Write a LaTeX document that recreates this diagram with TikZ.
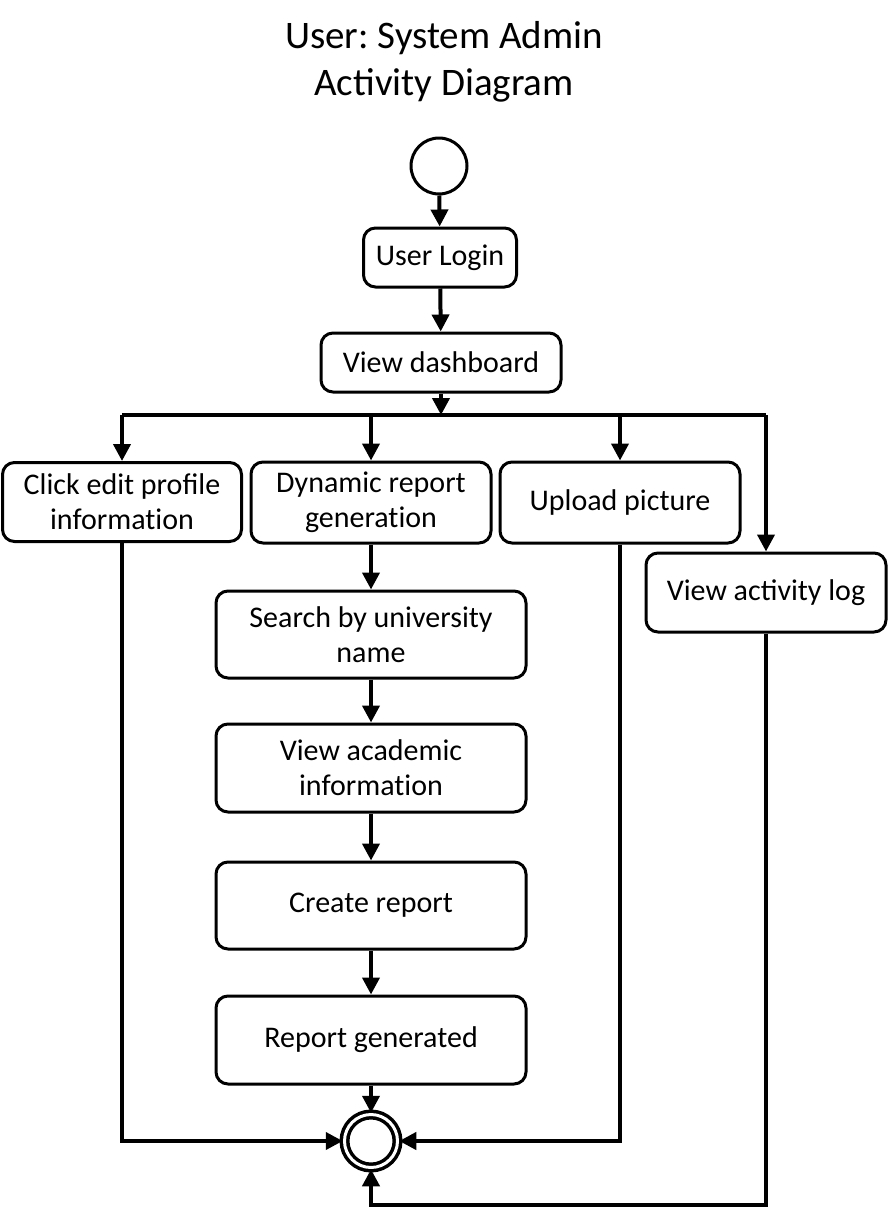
\documentclass[tikz,border=0pt]{standalone}
\usepackage{fontspec}
\setmainfont{Carlito}
\usetikzlibrary{arrows.meta}
\frenchspacing
% break the t-i ligature of Carlito
\newcommand{\nolig}{\kern0pt}

\tikzset{
  act/.style={draw, rounded corners=12pt, line width=3pt, align=center,
    font=\fontsize{30}{35}\selectfont, inner sep=0pt},
  flow/.style={line width=4pt, ->},
  bar/.style={line width=4pt}
}

\begin{document}
\begin{tikzpicture}[x=1pt, y=-1pt, >={Triangle[width=17pt,length=17pt]}]
\useasboundingbox (0,0) rectangle (888,1210);
%title
\node[align=center, font=\fontsize{39}{47}\selectfont] (title) at (444,62)
     {User: System Admin\\Activity Diagram};
%start and top actions
\node[draw, circle, line width=3pt, minimum size=56pt] (start) at (439,166) {};
\node[act, minimum width=153pt, minimum height=59pt] (login) at (440,257.5) {User Login};
\node[act, minimum width=240pt, minimum height=59pt] (dash) at (441,362.5) {View dashboard};
%fork
\coordinate (fork) at (441,415);
%branches
\node[act, minimum width=239pt, minimum height=79pt] (edit) at (122,502)
     {Click edit profile\\informat\nolig ion};
\node[act, minimum width=240pt, minimum height=81pt] (dyn) at (371,502.5)
     {Dynamic report\\generat\nolig ion};
\node[act, minimum width=240pt, minimum height=81pt] (upload) at (620,502.5)
     {Upload picture};
\node[act, minimum width=240pt, minimum height=79pt] (log) at (766,592.5)
     {View activity log};
%report chain
\node[act, minimum width=310pt, minimum height=87pt] (search) at (371,634.5)
     {Search by university\\name};
\node[act, minimum width=310pt, minimum height=88pt] (acad) at (371,768)
     {View academic\\informat\nolig ion};
\node[act, minimum width=310pt, minimum height=87pt] (create) at (371,905.5)
     {Create report};
\node[act, minimum width=310pt, minimum height=88pt] (gen) at (371,1040)
     {Report generated};
%final node
\node[draw, circle, double, double distance=3pt, line width=3.5pt,
      minimum size=53pt] (final) at (371,1141) {};
\coordinate (low) at (371,1205);
%top flow
\draw[flow] (start) -- (login);
\draw[flow] (login) -- (dash);
\draw[flow] (dash) -- (fork);
\draw[bar] (edit |- fork) -- (log |- fork);
\foreach \n in {edit, dyn, upload, log}
{
  \draw[flow] (\n |- fork) -- (\n);
}
%report flow
\draw[flow] (dyn) -- (search);
\draw[flow] (search) -- (acad);
\draw[flow] (acad) -- (create);
\draw[flow] (create) -- (gen);
\draw[flow] (gen) -- (final);
%joins
\draw[flow] (edit) |- (final);
\draw[flow] (upload) |- (final);
\draw[flow] (log) |- (low) -- (final);
\end{tikzpicture}
\end{document}
